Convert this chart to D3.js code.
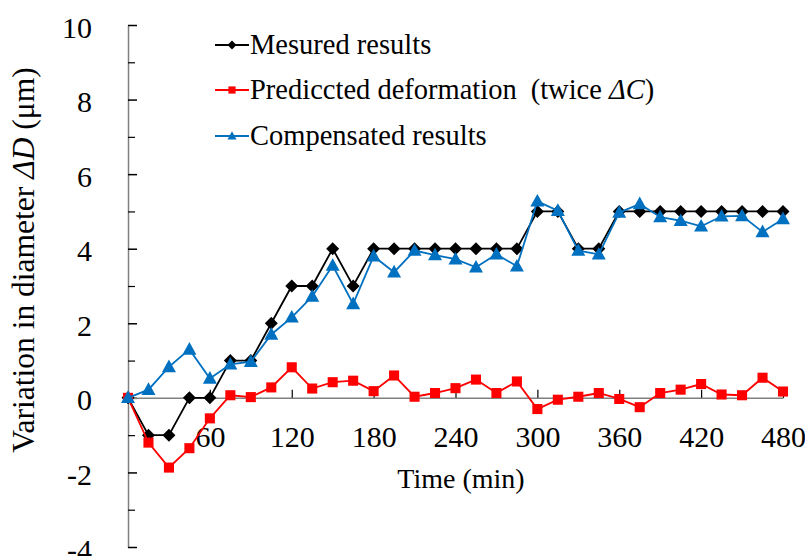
<!DOCTYPE html>
<html>
<head>
<meta charset="utf-8">
<script src="https://cdn.jsdelivr.net/npm/d3@7"></script>
<style>
  body { margin: 0; background: #fff; }
  svg text { font-family: "Liberation Serif", "Times New Roman", serif !important; }
</style>
</head>
<body>
<svg width="805" height="556"></svg>
<script>
// time (min), one reading every 15 min
const times = [0, 15, 30, 45, 60, 75, 90, 105, 120, 135, 150, 165, 180, 195, 210, 225, 240,
  255, 270, 285, 300, 315, 330, 345, 360, 375, 390, 405, 420, 435, 450, 465, 480];
const measured = [0, -1, -1, 0, 0, 1, 1, 2, 3, 3, 4, 3, 4, 4, 4, 4, 4,
  4, 4, 4, 5, 5, 4, 4, 5, 5, 5, 5, 5, 5, 5, 5, 5];
const predicted = [0, -1.2, -1.87, -1.35, -0.55, 0.07, 0.02, 0.28, 0.82, 0.25, 0.42, 0.46, 0.18, 0.6, 0.03, 0.13, 0.26,
  0.49, 0.13, 0.44, -0.3, -0.05, 0.03, 0.13, -0.03, -0.25, 0.13, 0.22, 0.37, 0.09, 0.07, 0.54, 0.17];
const compensated = [0, 0.22, 0.83, 1.3, 0.52, 0.9, 0.97, 1.7, 2.16, 2.72, 3.55, 2.52, 3.8, 3.37, 3.95, 3.83, 3.72,
  3.5, 3.85, 3.53, 5.27, 5.02, 3.95, 3.85, 4.97, 5.2, 4.85, 4.75, 4.6, 4.87, 4.88, 4.45, 4.8];

const xTicks = [60, 120, 180, 240, 300, 360, 420, 480];
const yTicks = [-4, -2, 0, 2, 4, 6, 8, 10];
const yMinor = [-3, -1, 1, 3, 5, 7, 9];

const series = [
  { name: "Mesured results", values: measured, color: "#000000", shape: "diamond" },
  { name: "Predicted", values: predicted, color: "#ff0000", shape: "square" },
  { name: "Compensated results", values: compensated, color: "#0070c0", shape: "triangle" }
];

const svg = d3.select("svg");
const tickFont = 30;
const fmt = d => String(d); // plain hyphen for negatives, as in the original

const x = d3.scaleLinear([0, 480], [128, 783]);
const y = d3.scaleLinear([-4, 10], [547, 25]);

// y axis with major ticks pointing right
svg.append("g")
  .attr("transform", `translate(${x(0)},0)`)
  .call(d3.axisLeft(y).tickValues(yTicks).tickFormat(fmt).tickSizeInner(-9).tickSizeOuter(0).tickPadding(36))
  .call(g => g.select(".domain").attr("stroke", "#808080").attr("stroke-width", 1.5))
  .call(g => g.selectAll(".tick line").attr("stroke", "#000").attr("stroke-width", 1.5))
  .call(g => g.selectAll(".tick text")
    .attr("font-size", tickFont).attr("fill", "#000")
    .attr("dy", "0.4em"));

// minor ticks
svg.append("g")
  .attr("transform", `translate(${x(0)},0)`)
  .call(d3.axisLeft(y).tickValues(yMinor).tickSizeInner(-7).tickSizeOuter(0).tickFormat(""))
  .call(g => g.select(".domain").remove())
  .call(g => g.selectAll(".tick line").attr("stroke", "#000").attr("stroke-width", 1.2));

// x axis sits on the zero line, ticks pointing up
svg.append("g")
  .attr("transform", `translate(0,${y(0)})`)
  .call(d3.axisBottom(x).tickValues(xTicks).tickFormat(fmt).tickSizeInner(-8).tickSizeOuter(0).tickPadding(28))
  .call(g => g.select(".domain").attr("stroke", "#808080").attr("stroke-width", 1.5))
  .call(g => g.selectAll(".tick line").attr("stroke", "#000").attr("stroke-width", 1.2))
  .call(g => g.selectAll(".tick text")
    .attr("font-size", tickFont).attr("fill", "#000"));

// axis titles
svg.append("text")
  .attr("x", 461)
  .attr("y", 488)
  .attr("text-anchor", "middle")
  .attr("font-size", 28)
  .text("Time (min)");

const yLabel = svg.append("text")
  .attr("transform", "translate(34,260) rotate(-90)")
  .attr("text-anchor", "middle")
  .attr("font-size", 31.5);
yLabel.append("tspan").text("Variation in diameter ");
yLabel.append("tspan").attr("font-style", "italic").text("ΔD");
yLabel.append("tspan").text(" (μm)");

// marker shapes
function marker(shape, s) {
  if (shape === "diamond") return `M0,${-s}L${s},0L0,${s}L${-s},0Z`;
  if (shape === "square") return `M${-s * 0.8},${-s * 0.8}H${s * 0.8}V${s * 0.8}H${-s * 0.8}Z`;
  return `M0,${-s * 1.05}L${s},${s * 0.75}L${-s},${s * 0.75}Z`;
}

const line = d3.line()
  .x((d, i) => x(times[i]))
  .y(d => y(d));

const markerSize = { diamond: 6.5, square: 6.3, triangle: 7 };

series.forEach(s => {
  const g = svg.append("g");
  g.append("path")
    .attr("d", line(s.values))
    .attr("fill", "none")
    .attr("stroke", s.color)
    .attr("stroke-width", 1.8);
  g.selectAll("path.pt")
    .data(s.values)
    .enter().append("path")
      .attr("class", "pt")
      .attr("transform", (d, i) => `translate(${x(times[i])},${y(d)})`)
      .attr("d", marker(s.shape, markerSize[s.shape]))
      .attr("fill", s.color);
});

// legend
const legendRows = [45, 90, 136];
series.forEach((s, i) => {
  const g = svg.append("g").attr("transform", `translate(215,${legendRows[i]})`);
  g.append("line")
    .attr("x1", 0).attr("x2", 34)
    .attr("stroke", s.color).attr("stroke-width", 1.8);
  g.append("path")
    .attr("transform", "translate(17,0)")
    .attr("d", marker(s.shape, 4.5))
    .attr("fill", s.color);
  const t = g.append("text")
    .attr("x", 35)
    .attr("y", 9)
    .attr("font-size", 28.5);
  if (i === 1) {
    t.append("tspan").text("Prediccted deformation");
    t.append("tspan").attr("dx", 14).text("(twice ");
    t.append("tspan").attr("font-style", "italic").text("ΔC");
    t.append("tspan").text(")");
  } else {
    t.text(s.name);
  }
});
</script>
</body>
</html>
